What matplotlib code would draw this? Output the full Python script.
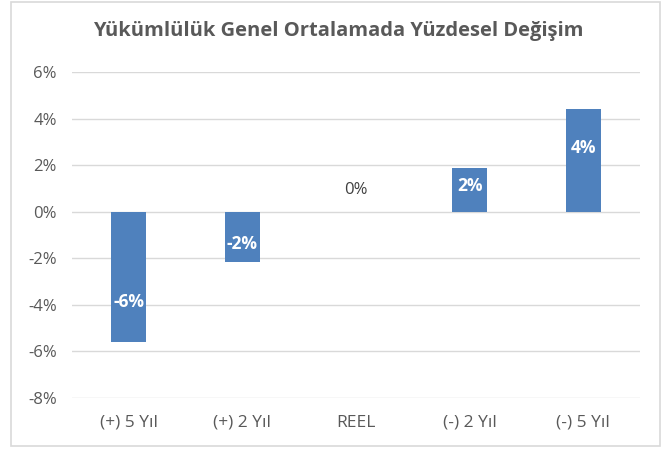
import matplotlib
matplotlib.use("Agg")
import matplotlib.pyplot as plt
from matplotlib.patches import Rectangle

categories = ["(+) 5 Yıl", "(+) 2 Yıl", "REEL", "(-) 2 Yıl", "(-) 5 Yıl"]
values = [-5.59, -2.14, 0.0, 1.87, 4.40]
yticks = [-8, -6, -4, -2, 0, 2, 4, 6]
title = "Yükümlülük Genel Ortalamada Yüzdesel Değişim"

# relative position of the value label inside each bar (styling)
label_frac = [0.69, 0.65, 0.0, 0.58, 0.62]

plt.rcParams['font.family'] = ['Open Sans', 'DejaVu Sans']

fig = plt.figure(figsize=(6.69, 4.53), dpi=100)
ax = fig.add_axes([72/669, 1-398/453, (640-72)/669, (398-72)/453])

x = list(range(len(categories)))
ax.bar(x, values, width=0.31, color="#4f81bd", zorder=3)
ax.set_xlim(-0.5, len(categories)-0.5)
ax.set_ylim(-8, 6)
ax.set_yticks(yticks)
ax.set_yticklabels([f"{t}%" for t in yticks], fontsize=12, color="#595959")
ax.set_xticks(x)
ax.set_xticklabels(categories, fontsize=12.5, color="#595959")
ax.tick_params(length=0, pad=11)
ax.tick_params(axis='x', pad=12)
ax.grid(axis='y', color="#d9d9d9", linewidth=1, zorder=0)
for s in ax.spines.values():
    s.set_visible(False)

for xi, v, f in zip(x, values, label_frac):
    lab = f"{round(v):.0f}%"
    if round(v) == 0:
        ax.text(xi, v + 0.95, lab, ha='center', va='center', fontsize=12, color="#404040")
    else:
        ax.text(xi, v * f, lab, ha='center', va='center', fontsize=12.5, color="white",
                fontweight='bold', zorder=4)

fig.text(338/669, 1-31/453, title, ha='center', va='center', fontsize=14.5, fontweight='bold', color="#595959")

fig.patches.append(Rectangle((11/669, 1-446/453), (660-11)/669, (446-2)/453, transform=fig.transFigure,
                             fill=False, edgecolor="#d9d9d9", linewidth=1.2))

fig.savefig("out.png", dpi=100)
